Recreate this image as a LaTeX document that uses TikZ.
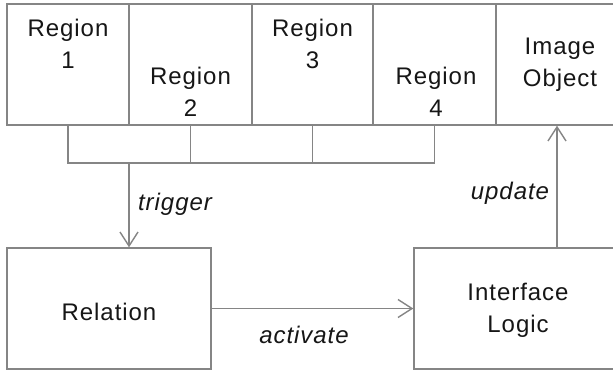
\documentclass[tikz,border=0pt]{standalone}
\usepackage{fontspec}
\setmainfont[LetterSpace=4]{Liberation Sans}
\usetikzlibrary{arrows.meta,calc}
\definecolor{linegray}{HTML}{858585}
\definecolor{inkgray}{HTML}{161616}
\begin{document}
\begin{tikzpicture}[x=1pt,y=-1pt,
  box/.style={draw=linegray, line width=1.4pt, rectangle, inner sep=0pt},
  txt/.style={align=center, font=\fontsize{24}{32}\selectfont, text=inkgray, inner sep=0pt},
  lbl/.style={font=\fontsize{24}{28}\selectfont\itshape, text=inkgray, inner sep=0pt},
  link/.style={draw=linegray, line width=1.4pt},
  arr/.style={link, -{Straight Barb[length=14pt,width=18pt,line width=1.4pt]}}]
  % canvas
  \useasboundingbox (0,0) rectangle (613,375);
  \clip (0,0) rectangle (613,375);
  \fill[white] (0,0) rectangle (613,375);

  % top row: four regions and the image object (runs past the right edge)
  \node[box, minimum width=122pt, minimum height=121pt] (r1)  at (68,64.5)  {};
  \node[box, minimum width=123pt, minimum height=121pt] (r2)  at (190.5,64.5) {};
  \node[box, minimum width=121pt, minimum height=121pt] (r3)  at (312.5,64.5) {};
  \node[box, minimum width=123pt, minimum height=121pt] (r4)  at (434.5,64.5) {};
  \node[box, minimum width=160pt, minimum height=121pt] (img) at (576,64.5) {};

  \node[txt] (t1) at (68,44)    {Region\\1};
  \node[txt] (t2) at (190.5,92) {Region\\2};
  \node[txt] (t3) at (312.5,44) {Region\\3};
  \node[txt] (t4) at (436,92)   {Region\\4};
  \node[txt] (t5) at (560,65)   {Image\\Object};

  % bottom row
  \node[box, minimum width=204pt, minimum height=121pt] (rel)   at (109,308.5) {};
  \node[box, minimum width=240pt, minimum height=121pt] (logic) at (534,308.5) {};
  \node[txt] (t6) at (109,312) {Relation};
  \node[txt] (t7) at (518,310) {Interface\\Logic};

  % bus joining the four regions
  \coordinate (tap) at (129,163);
  \draw[link] (r1.south) -- (r1.south |- tap) -- (r4.south |- tap) -- (r4.south);
  \draw[link] (r2.south) -- (r2.south |- tap);
  \draw[link] (r3.south) -- (r3.south |- tap);

  % flows
  \draw[arr] (tap) -- (tap |- rel.north);
  \draw[arr] (rel.east) -- (logic.west);
  \draw[arr] ([xshift=-19pt]img.south |- logic.north) -- ([xshift=-19pt]img.south);

  \node[lbl] (l1) at (175,204) {trigger};
  \node[lbl] (l2) at (304,335) {activate};
  \node[lbl] (l3) at (510,193) {update};
\end{tikzpicture}
\end{document}
